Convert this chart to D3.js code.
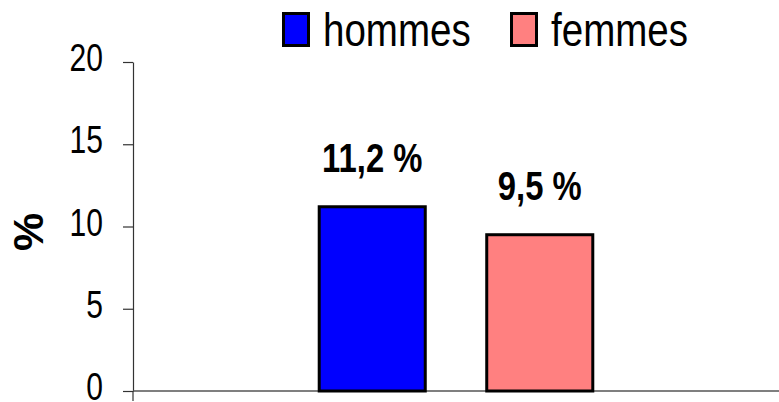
<!DOCTYPE html>
<html>
<head>
<meta charset="utf-8">
<script src="https://cdn.jsdelivr.net/npm/d3@7"></script>
<style>
  body { margin: 0; background: #fff; }
  svg { display: block; font-family: "Liberation Sans", Arial, sans-serif; }
</style>
</head>
<body>
<svg id="chart" width="779" height="402"></svg>
<script>
// data
var categories = [""];
var series = ["hommes", "femmes"];
var values = [11.2, 9.5];
var colors = ["#0000ff", "#ff8080"];
var yTicks = [0, 5, 10, 15, 20];

(function() {
var svg = d3.select("#chart"),
    mLeft = 133, mRight = 779, mTop = 62, mBottom = 391,
    narrow = 0.8; // the original fonts are horizontally condensed

var x0 = d3.scaleBand().domain(categories).range([mLeft, mRight]).padding(0.405);
var x1 = d3.scaleBand().domain(series).range([0, x0.bandwidth()]).paddingInner(0.367);
var y = d3.scaleLinear().domain([0, 20]).range([mBottom, mTop]);

// y axis
var yAxis = svg.append("g")
    .attr("transform", "translate(" + mLeft + ",0)")
    .call(d3.axisLeft(y).tickValues(yTicks).tickSize(10).tickPadding(20).tickSizeOuter(0));
yAxis.select(".domain").attr("stroke", "#333").attr("stroke-width", 1.2);
yAxis.selectAll(".tick line").attr("stroke", "#333").attr("stroke-width", 1.2);
yAxis.selectAll(".tick text")
    .attr("font-size", "39px")
    .attr("font-family", "Liberation Sans, Arial, sans-serif")
    .attr("fill", "#000")
    .attr("x", -30 / 0.77)
    .attr("dy", "0.22em")
    .attr("transform", "scale(0.77,1)");

// x axis line
svg.append("line")
    .attr("x1", mLeft).attr("x2", mRight)
    .attr("y1", y(0)).attr("y2", y(0))
    .attr("stroke", "#555")
    .attr("stroke-width", 1.5);
svg.append("line")
    .attr("x1", mLeft).attr("x2", mLeft)
    .attr("y1", y(0)).attr("y2", y(0) + 10)
    .attr("stroke", "#333")
    .attr("stroke-width", 1.2);

// bars
var g = svg.append("g").attr("transform", "translate(" + x0(categories[0]) + ",0)");

g.selectAll("rect")
    .data(series)
    .enter().append("rect")
    .attr("x", function(d) { return x1(d); })
    .attr("y", function(d, i) { return y(values[i]); })
    .attr("width", x1.bandwidth())
    .attr("height", function(d, i) { return y(0) - y(values[i]); })
    .attr("fill", function(d, i) { return colors[i]; })
    .attr("stroke", "black")
    .attr("stroke-width", 3);

g.selectAll("text.val")
    .data(series)
    .enter().append("text")
    .attr("class", "val")
    .attr("transform", function(d, i) {
        return "translate(" + (x1(d) + x1.bandwidth() / 2) + "," + (y(values[i]) - 35) + ") scale(" + narrow + ",1)";
    })
    .attr("text-anchor", "middle")
    .attr("font-size", "41px")
    .attr("font-weight", "bold")
    .text(function(d, i) { return String(values[i]).replace(".", ",") + " %"; });

// y title
svg.append("text")
    .attr("transform", "translate(43,232) rotate(-90)")
    .attr("text-anchor", "middle")
    .attr("font-size", "43px")
    .attr("font-weight", "bold")
    .text("%");

// legend
var legendX = [282, 510];
var legend = svg.selectAll("g.legend")
    .data(series)
    .enter().append("g")
    .attr("class", "legend")
    .attr("transform", function(d, i) { return "translate(" + legendX[i] + ",0)"; });

legend.append("rect")
    .attr("x", 1.5).attr("y", 13.5)
    .attr("width", 25).attr("height", 32)
    .attr("fill", function(d, i) { return colors[i]; })
    .attr("stroke", "black")
    .attr("stroke-width", 3);

legend.append("text")
    .attr("transform", "translate(41,46) scale(0.82,1)")
    .attr("font-size", "47px")
    .text(function(d) { return d; });
})();
</script>
</body>
</html>
